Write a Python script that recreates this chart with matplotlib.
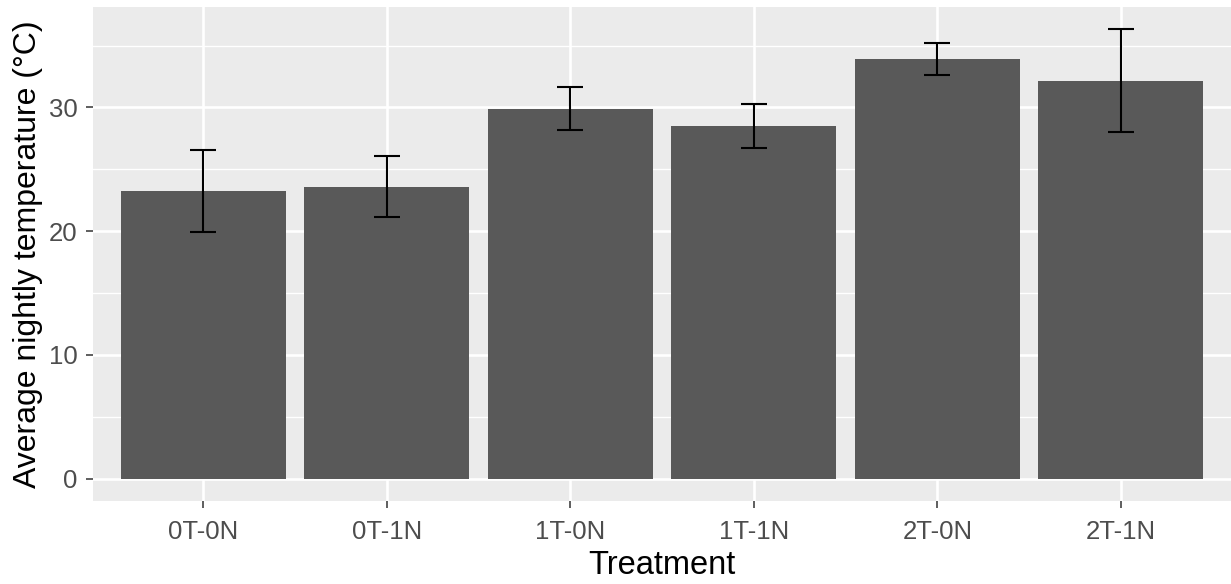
import matplotlib.pyplot as plt

treatments = ["0T-0N", "0T-1N", "1T-0N", "1T-1N", "2T-0N", "2T-1N"]
mean_temp = [23.25, 23.6, 29.9, 28.5, 33.9, 32.15]
err_temp = [3.3, 2.45, 1.75, 1.75, 1.3, 4.15]

plt.rcParams["font.family"] = ["Liberation Sans", "DejaVu Sans"]

fig = plt.figure(figsize=(12.31, 5.84), dpi=100)
ax = fig.add_axes([93 / 1231, 83 / 584, 1138 / 1231, 494 / 584])

x = list(range(1, len(treatments) + 1))

# ggplot-like panel
ax.set_facecolor("#EBEBEB")
for s in ax.spines.values():
    s.set_visible(False)

top = max(m + e for m, e in zip(mean_temp, err_temp))
ax.set_ylim(-0.05 * top, 1.05 * top)
ax.set_xlim(0.4, len(treatments) + 0.6)

for yv in [5, 15, 25, 35]:
    ax.axhline(yv, color="white", lw=1.0, zorder=0)
for yv in [0, 10, 20, 30]:
    ax.axhline(yv, color="white", lw=1.9, zorder=0)
for xv in x:
    ax.axvline(xv, color="white", lw=1.9, zorder=0)

ax.bar(x, mean_temp, width=0.9, color="#595959", zorder=2)

# error bars with caps in data units
lo = [m - e for m, e in zip(mean_temp, err_temp)]
hi = [m + e for m, e in zip(mean_temp, err_temp)]
ax.vlines(x, lo, hi, color="black", lw=1.5, zorder=3)
ax.hlines(lo, [v - 0.07 for v in x], [v + 0.07 for v in x], color="black", lw=1.5, zorder=3)
ax.hlines(hi, [v - 0.07 for v in x], [v + 0.07 for v in x], color="black", lw=1.5, zorder=3)

ax.set_xticks(x)
ax.set_xticklabels(treatments)
ax.set_yticks([0, 10, 20, 30])
ax.tick_params(axis="both", length=5, width=1.1, color="#333333",
               labelcolor="#4D4D4D", labelsize=18.5)
ax.tick_params(axis="x", pad=9)
ax.tick_params(axis="y", pad=6)

ax.set_xlabel("Treatment", fontsize=23.5, labelpad=4)
ax.set_ylabel("Average nightly temperature (°C)", fontsize=23, labelpad=4)

fig.savefig("out.png", dpi=100)
